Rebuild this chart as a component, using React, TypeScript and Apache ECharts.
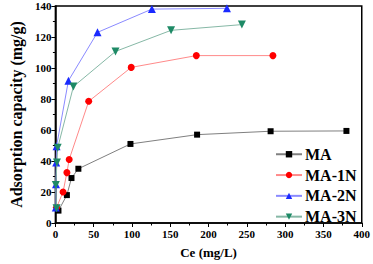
import React, { useEffect, useRef } from "react";
import * as echarts from "echarts";

const seriesNames = ["MA", "MA-1N", "MA-2N", "MA-3N"];
const maData: [number, number][] = [[4, 8], [15, 18], [21, 29], [30, 35], [98, 51], [185, 57], [281, 59.2], [380, 59.4]];
const ma1nData: [number, number][] = [[1.5, 10], [10, 20], [15, 32.5], [18, 41], [43.5, 78.5], [99, 100.4], [184, 108], [284, 108]];
const ma2nData: [number, number][] = [[0.5, 10], [0.8, 25], [1, 39], [1.5, 49.5], [17, 91.8], [55, 123], [126, 138], [224, 138.5]];
const ma3nData: [number, number][] = [[1.5, 9.5], [0.5, 24.5], [2, 39], [3, 48.5], [23.5, 88], [78.5, 110.7], [151, 124.3], [243.5, 128]];

const markerColors = ["#000000", "#ff0000", "#1a2aff", "#1e8a66"];
const lineColors = ["#808080", "#ff8a8a", "#8a8aff", "#86b8a6"];
const symbols = ["rect", "circle", "triangle", "path://M0,0 L10,0 L5,9 Z"];
const symbolSizes = [6, 7, 8, 8];

const FONT = "'Liberation Serif', 'Times New Roman', serif";

export default function App() {
  const ref = useRef<HTMLDivElement>(null);
  useEffect(() => {
    if (!ref.current) return;
    const chart = echarts.init(ref.current, undefined, { renderer: "svg" });
    const datas = [maData, ma1nData, ma2nData, ma3nData];
    chart.setOption({
      animation: false,
      backgroundColor: "#ffffff",
      grid: { left: 42, top: 6, right: 9, bottom: 35, show: true, borderColor: "#000", borderWidth: 1.5 },
      legend: {
        orient: "vertical",
        left: 270,
        top: 141,
        itemWidth: 26,
        itemHeight: 8,
        itemGap: 4.3,
        textStyle: { fontFamily: FONT, fontWeight: "bold", fontSize: 16, color: "#000", padding: [0, 0, 0, -2], lineHeight: 16.5 },
        data: seriesNames,
      },
      xAxis: {
        type: "value",
        min: 0,
        max: 400,
        interval: 50,
        name: "Ce (mg/L)",
        nameLocation: "middle",
        nameGap: 23,
        nameTextStyle: { fontFamily: FONT, fontWeight: "bold", fontSize: 13, color: "#000" },
        axisLine: { show: true, lineStyle: { color: "#000", width: 1.5 } },
        axisTick: { show: true, length: 4, lineStyle: { color: "#000", width: 1 } },
        minorTick: { show: true, splitNumber: 2, length: 2.5, lineStyle: { color: "#000" } },
        axisLabel: { fontFamily: FONT, fontWeight: "bold", fontSize: 11, color: "#000", margin: 5 },
        splitLine: { show: false },
      },
      yAxis: {
        type: "value",
        min: 0,
        max: 140,
        interval: 20,
        name: "Adsorption capacity (mg/g)",
        nameLocation: "middle",
        nameGap: 23,
        nameTextStyle: { fontFamily: FONT, fontWeight: "bold", fontSize: 16, color: "#000" },
        axisLine: { show: true, lineStyle: { color: "#000", width: 1.5 } },
        axisTick: { show: true, length: 4, lineStyle: { color: "#000", width: 1 } },
        minorTick: { show: true, splitNumber: 2, length: 2.5, lineStyle: { color: "#000" } },
        axisLabel: { fontFamily: FONT, fontWeight: "bold", fontSize: 11, color: "#000", margin: 4 },
        splitLine: { show: false },
      },
      series: seriesNames.map((name, i) => ({
        name,
        type: "line",
        data: datas[i],
        symbol: symbols[i],
        symbolSize: symbolSizes[i],
        showAllSymbol: true,
        itemStyle: { color: markerColors[i] },
        lineStyle: { color: lineColors[i], width: 1 },
        z: 2 + i,
      })),
    });
    return () => chart.dispose();
  }, []);
  return <div ref={ref} style={{ width: 373, height: 264, position: "absolute", left: 0, top: 0 }} />;
}
